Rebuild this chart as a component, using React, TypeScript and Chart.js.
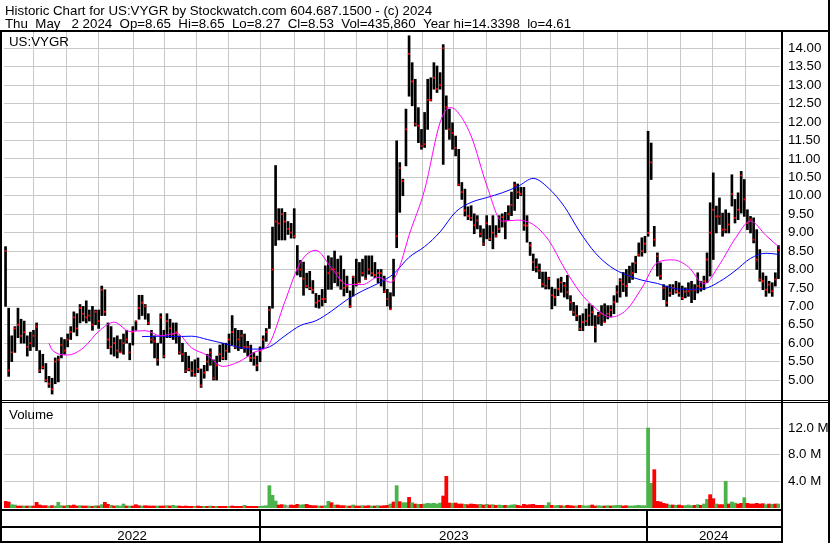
import React, { useEffect, useRef } from 'react';
import { Chart, registerables } from 'chart.js';

Chart.register(...registerables);

// Each slot = about two trading days, May 2022 .. May 2 2024
const highs = [
  8.62, 6.95, 6.2, 6.45, 6.95, 6.65, 6.6, 6.2, 6.3, 6.35,
  6.55, 5.8, 5.7, 5.45, 5.1, 5.05, 5.6, 5.65, 6.15, 6.1,
  6.25, 6.45, 6.85, 6.8, 7.05, 7.0, 7.15, 6.9, 7.0, 6.9,
  6.9, 7.55, 7.45, 6.55, 6.45, 6.15, 6.2, 6.1, 6.25, 6.35,
  6.0, 6.45, 6.6, 7.3, 7.3, 7.05, 6.8, 6.35, 6.2, 6.0,
  6.8, 6.35, 6.8, 6.65, 6.55, 6.55, 6.2, 6.0, 5.75, 5.65,
  5.5, 5.55, 5.6, 5.3, 5.4, 5.7, 5.85, 5.55, 5.65, 5.95,
  6.0, 6.0, 6.25, 6.75, 6.4, 6.35, 6.35, 6.25, 6.05, 5.95,
  5.75, 5.65, 5.9, 6.2, 6.4, 7.0, 9.15, 10.82, 9.65, 9.65,
  9.55, 9.3, 9.25, 9.65, 8.65, 8.25, 8.2, 7.9, 7.95, 7.7,
  7.35, 7.3, 7.46, 8.1, 8.37, 8.32, 8.5, 8.28, 8.37, 8.0,
  7.82, 7.42, 7.82, 8.28, 8.19, 8.28, 8.37, 8.37, 8.37, 8.19,
  8.0, 8.0, 7.82, 7.46, 7.37, 8.28, 11.49, 10.9, 10.45, 12.35,
  14.34, 13.61, 13.16, 12.39, 11.8, 12.26, 13.16, 13.2, 13.61, 13.52,
  13.34, 14.1, 12.71, 12.35, 11.98, 11.62, 11.26, 10.36, 10.18, 9.7,
  9.73, 9.51, 9.46, 9.19, 9.1, 9.46, 9.19, 9.46, 9.19, 9.46,
  9.51, 9.55, 9.73, 10.1, 10.37, 10.32, 10.23, 10.23, 9.46, 8.74,
  8.42, 8.29, 8.15, 7.93, 7.93, 7.79, 7.52, 7.47, 7.75, 7.79,
  7.65, 7.84, 7.29, 7.11, 7.02, 6.75, 6.8, 6.93, 7.07, 7.02,
  6.75, 6.84, 7.02, 7.07, 7.02, 7.02, 7.29, 7.56, 7.75, 7.92,
  8.0, 8.09, 8.18, 8.36, 8.72, 8.86, 8.9, 11.75, 11.43, 9.17,
  8.45, 8.18, 7.59, 7.55, 7.59, 7.59, 7.68, 7.64, 7.55, 7.5,
  7.64, 7.68, 7.59, 7.91, 7.68, 7.82, 8.45, 9.81, 10.62, 9.72,
  9.94, 9.53, 9.62, 9.53, 10.57, 9.9, 10.08, 10.66, 10.44, 9.62,
  9.44, 9.4, 9.08, 8.54, 7.91, 7.82, 7.68, 7.64, 7.91, 8.65,
];

const lows = [
  7.0, 5.1, 5.5, 5.75, 6.15, 6.0, 6.0, 5.65, 5.8, 5.9,
  5.8, 5.2, 5.3, 4.95, 4.8, 4.62, 4.9, 4.95, 5.6, 5.7,
  5.9, 6.1, 6.3, 6.2, 6.55, 6.6, 6.55, 6.6, 6.35, 6.5,
  6.4, 6.75, 6.75, 5.85, 5.7, 5.65, 5.6, 5.75, 5.7, 6.0,
  5.55, 5.95, 6.35, 6.65, 6.75, 6.65, 6.5, 6.0, 5.6, 5.4,
  6.0, 5.6, 6.15, 6.15, 6.1, 6.0, 5.7, 5.5, 5.2, 5.25,
  5.1, 5.1, 5.2, 4.8, 5.05, 5.25, 5.4, 5.0, 5.0, 5.5,
  5.55, 5.55, 5.75, 5.95, 5.85, 5.8, 5.85, 5.75, 5.65, 5.5,
  5.4, 5.25, 5.5, 5.85, 6.05, 6.4, 6.95, 8.65, 8.8, 8.8,
  8.8, 8.95, 8.85, 8.85, 7.85, 7.8, 7.3, 7.5, 7.45, 7.35,
  6.97, 6.95, 7.01, 7.1, 7.46, 7.46, 7.64, 7.55, 7.46, 7.28,
  7.37, 6.97, 7.28, 7.55, 7.64, 7.82, 7.73, 7.87, 7.82, 7.78,
  7.64, 7.55, 7.37, 7.01, 6.92, 7.28, 8.59, 9.55, 10.0, 10.81,
  12.7, 12.44, 11.89, 11.44, 11.26, 11.31, 11.8, 12.57, 12.89, 12.8,
  12.89, 10.85, 11.8, 11.53, 11.26, 11.08, 10.27, 9.9, 9.45, 9.35,
  9.33, 8.97, 9.1, 8.88, 8.65, 8.83, 8.78, 8.56, 8.88, 9.0,
  9.15, 8.83, 9.33, 9.46, 9.6, 9.92, 10.0, 9.06, 8.74, 8.38,
  7.97, 7.93, 7.75, 7.52, 7.47, 7.47, 6.93, 7.02, 7.29, 7.38,
  7.25, 7.2, 6.89, 6.75, 6.61, 6.34, 6.34, 6.48, 6.48, 6.48,
  6.03, 6.52, 6.48, 6.57, 6.66, 6.71, 6.8, 7.11, 7.25, 7.4,
  7.27, 7.64, 7.73, 7.91, 8.36, 8.36, 8.45, 8.9, 10.44, 8.63,
  7.82, 7.73, 7.18, 7.0, 7.27, 7.32, 7.36, 7.27, 7.18, 7.23,
  7.27, 7.1, 7.18, 7.36, 7.41, 7.45, 7.64, 7.82, 8.27, 8.99,
  9.22, 8.9, 8.99, 8.99, 9.72, 9.26, 9.35, 9.53, 9.44, 9.08,
  8.99, 8.72, 8.0, 7.68, 7.45, 7.27, 7.36, 7.27, 7.55, 7.75,
];

const closes = [
  8.5, 5.26, 5.75, 6.4, 6.5, 6.2, 6.3, 5.9, 6.0, 6.2,
  6.45, 5.26, 5.35, 5.0, 4.9, 4.75, 5.5, 5.55, 5.95, 5.8,
  6.1, 6.3, 6.7, 6.4, 6.95, 6.8, 6.7, 6.75, 6.5, 6.85,
  6.6, 7.45, 6.85, 6.1, 5.9, 6.0, 5.8, 5.75, 6.0, 6.1,
  5.75, 6.3, 6.6, 6.95, 7.1, 7.0, 6.55, 6.1, 6.05, 5.55,
  6.7, 5.65, 6.6, 6.4, 6.25, 6.3, 5.75, 5.7, 5.25, 5.3,
  5.25, 5.15, 5.3, 4.85, 5.2, 5.5, 5.75, 5.05, 5.4, 5.7,
  5.6, 5.8, 6.1, 6.3, 5.9, 6.1, 6.2, 5.9, 5.9, 5.6,
  5.6, 5.4, 5.8, 6.1, 6.3, 6.9, 8.0, 9.3, 9.25, 9.5,
  9.3, 9.1, 9.0, 8.9, 8.0, 8.0, 7.75, 7.55, 7.5, 7.45,
  7.1, 7.15, 7.2, 7.2, 7.9, 8.0, 8.0, 7.9, 7.7, 7.5,
  7.55, 7.0, 7.8, 7.6, 7.65, 7.9, 7.75, 8.0, 7.9, 7.85,
  7.9, 7.9, 7.4, 7.2, 6.92, 7.7, 8.9, 10.75, 10.4, 11.8,
  13.85, 13.1, 11.95, 11.9, 11.35, 11.4, 12.6, 12.6, 13.2, 12.9,
  13.0, 14.0, 12.4, 11.8, 11.7, 11.3, 10.3, 10.1, 9.6, 9.45,
  9.4, 9.2, 9.33, 8.97, 8.7, 9.25, 8.83, 9.0, 8.9, 9.1,
  9.42, 9.3, 9.5, 9.75, 10.28, 10.1, 10.05, 9.2, 9.19, 8.65,
  8.2, 8.06, 7.97, 7.6, 7.56, 7.75, 7.3, 7.25, 7.47, 7.65,
  7.56, 7.38, 7.11, 6.84, 6.75, 6.39, 6.57, 6.6, 6.75, 6.84,
  6.43, 6.75, 6.8, 6.57, 6.8, 6.9, 7.11, 7.38, 7.7, 7.6,
  7.55, 7.82, 7.9, 8.18, 8.4, 8.5, 8.7, 8.99, 10.9, 8.81,
  8.36, 7.82, 7.5, 7.1, 7.36, 7.5, 7.41, 7.36, 7.23, 7.4,
  7.41, 7.45, 7.45, 7.55, 7.5, 7.68, 8.27, 9.0, 9.62, 9.44,
  9.44, 9.08, 9.08, 9.22, 10.05, 9.4, 9.62, 10.55, 9.9, 9.26,
  9.35, 8.81, 8.27, 7.73, 7.68, 7.45, 7.59, 7.41, 7.73, 8.53,
];

// Volume in millions of shares
const volumes = [
  1.0, 0.9, 0.5, 0.45, 0.3, 0.3, 0.3, 0.3, 0.3, 0.3,
  0.85, 0.45, 0.35, 0.35, 0.3, 0.35, 0.3, 0.85, 0.35, 0.3,
  0.4, 0.35, 0.45, 0.3, 0.35, 0.3, 0.3, 0.3, 0.25, 0.35,
  0.3, 0.5, 0.85, 0.55, 0.4, 0.3, 0.35, 0.3, 0.6, 0.3,
  0.3, 0.3, 0.5, 0.35, 0.3, 0.35, 0.3, 0.3, 0.3, 0.3,
  0.3, 0.3, 0.35, 0.3, 0.4, 0.3, 0.3, 0.25, 0.3, 0.25,
  0.25, 0.25, 0.3, 0.25, 0.25, 0.25, 0.3, 0.25, 0.25, 0.25,
  0.25, 0.25, 0.25, 0.3, 0.25, 0.25, 0.25, 0.4, 0.25, 0.25,
  0.25, 0.25, 0.25, 0.3, 0.35, 3.35, 1.9, 1.05, 0.45, 0.5,
  0.45, 0.35, 0.45, 0.4, 0.55, 0.45, 0.5, 0.55, 0.4, 0.35,
  0.35, 0.3, 0.3, 0.35, 1.0, 0.8, 0.45, 0.45, 0.35, 0.35,
  0.3, 0.3, 0.45, 0.3, 0.3, 0.35, 0.3, 0.35, 0.3, 0.3,
  0.35, 0.3, 0.35, 0.4, 0.6, 0.9, 3.35, 0.95, 0.8, 0.8,
  1.6, 0.8, 0.6, 0.55, 0.55, 0.6, 0.7, 0.65, 0.7, 0.6,
  0.75, 1.8, 4.75, 0.75, 0.7, 0.75, 0.6, 0.6, 0.55, 0.5,
  0.6, 0.55, 0.5, 0.55, 0.45, 0.55, 0.45, 0.5, 0.4, 0.45,
  0.4, 0.4, 0.35, 0.45, 0.5, 0.4, 0.3, 0.55, 0.45, 0.5,
  0.55, 0.4, 0.4, 0.4, 0.35, 0.8, 0.4, 0.35, 0.4, 0.35,
  0.3, 0.4, 0.35, 0.3, 0.3, 0.4, 0.35, 0.3, 0.35, 0.45,
  0.3, 0.35, 0.3, 0.3, 0.35, 0.3, 0.35, 0.4, 0.4, 0.3,
  0.35, 0.3, 0.3, 0.35, 0.4, 0.35, 0.35, 12.0, 3.7, 5.75,
  1.0, 0.9, 0.7, 0.6, 0.45, 0.45, 0.4, 0.45, 0.35, 0.35,
  0.45, 0.35, 0.4, 0.5, 0.4, 0.6, 1.3, 2.0, 1.4, 0.6,
  0.5, 0.5, 4.0, 0.6, 0.9, 0.75, 0.6, 0.7, 1.55, 0.7,
  0.6, 0.6, 0.7, 0.6, 0.65, 0.5, 0.6, 0.55, 0.6, 0.6,
];

// 1 = up day (green), 0 = down day (red), 2 = unchanged (grey)
const volumeTrend = [
  0, 0, 1, 1, 0, 0, 1, 0, 1, 0,
  0, 0, 0, 0, 1, 0, 1, 1, 1, 0,
  1, 0, 0, 0, 1, 0, 0, 1, 0, 1,
  0, 1, 0, 0, 1, 0, 1, 1, 1, 0,
  1, 0, 0, 0, 1, 0, 0, 0, 0, 1,
  0, 0, 1, 0, 1, 1, 0, 0, 0, 0,
  0, 1, 0, 0, 1, 0, 1, 0, 1, 0,
  0, 0, 1, 0, 0, 0, 0, 1, 0, 0,
  0, 0, 1, 1, 1, 1, 1, 1, 0, 0,
  1, 2, 0, 0, 0, 1, 1, 0, 0, 0,
  0, 1, 0, 1, 1, 0, 1, 0, 0, 0,
  1, 0, 1, 0, 0, 1, 0, 0, 1, 0,
  1, 0, 0, 0, 1, 0, 1, 0, 1, 1,
  0, 1, 0, 1, 0, 1, 1, 1, 1, 1,
  1, 0, 0, 0, 1, 0, 0, 0, 1, 0,
  0, 0, 0, 1, 0, 1, 0, 1, 0, 1,
  1, 0, 1, 1, 1, 0, 0, 0, 0, 0,
  0, 0, 0, 0, 1, 1, 0, 1, 1, 0,
  1, 0, 0, 0, 1, 0, 1, 1, 1, 0,
  0, 1, 1, 0, 1, 0, 1, 1, 1, 0,
  0, 1, 1, 1, 1, 1, 1, 1, 1, 0,
  0, 0, 0, 0, 1, 0, 1, 0, 0, 1,
  1, 1, 0, 1, 0, 1, 1, 0, 0, 1,
  0, 0, 1, 0, 1, 1, 0, 0, 1, 0,
  0, 0, 0, 0, 0, 1, 0, 1, 0, 1,
];

// moving averages (slot, value)
const fastMaAt = [14, 15, 20, 25, 30, 35, 40, 45, 50, 55, 60, 65, 70, 75, 80, 85, 90, 95, 100, 105, 110, 115, 120, 124, 127, 130, 135, 140, 143, 145, 150, 155, 160, 165, 170, 175, 180, 185, 190, 195, 200, 205, 210, 215, 220, 225, 230, 235, 240, 245, 249];
const fastMa = [6.0, 5.82, 5.68, 5.87, 6.32, 6.57, 6.32, 6.34, 6.2, 6.27, 5.87, 5.67, 5.37, 5.49, 5.75, 5.99, 7.13, 8.19, 8.52, 8.04, 7.59, 7.59, 7.79, 7.65, 8.09, 8.93, 10.16, 11.99, 12.39, 12.33, 11.62, 10.29, 9.31, 9.34, 9.22, 8.79, 8.04, 7.39, 6.95, 6.71, 6.9, 7.5, 8.19, 8.26, 8.07, 7.61, 8.13, 8.83, 9.31, 8.92, 8.62];
const slowMaAt = [44, 50, 55, 60, 65, 70, 75, 80, 85, 90, 95, 100, 105, 110, 115, 120, 125, 130, 135, 140, 145, 150, 155, 160, 165, 170, 175, 180, 185, 190, 195, 200, 205, 210, 215, 220, 225, 230, 235, 240, 245, 249];
const slowMa = [6.18, 6.19, 6.18, 6.19, 6.1, 6.0, 5.89, 5.84, 5.9, 6.2, 6.48, 6.61, 6.87, 7.18, 7.42, 7.62, 7.88, 8.33, 8.62, 9.02, 9.56, 9.82, 9.95, 10.08, 10.25, 10.47, 10.2, 9.71, 9.02, 8.45, 8.07, 7.85, 7.71, 7.62, 7.49, 7.46, 7.48, 7.67, 7.96, 8.3, 8.44, 8.41];

// month boundaries in slot units, and year segment edges
const monthLines = [9.14, 19.74, 30.03, 41.27, 51.23, 61.52, 71.8, 82.08, 93.0, 102.65, 112.93, 123.21, 134.46, 144.42, 155.0, 165.96, 175.6, 186.1, 197.1, 206.76, 217.4, 227.7, 238.3];
const yearEdges = [-0.5, 82.08, 206.76, 249.5];
const yearLabels = ['2022', '2023', '2024'];

const priceTicks = [5, 5.5, 6, 6.5, 7, 7.5, 8, 8.5, 9, 9.5, 10, 10.5, 11, 11.5, 12, 12.5, 13, 13.5, 14];
const volumeTicks = [4, 8, 12];

const headerLine1 = 'Historic Chart for US:VYGR by Stockwatch.com 604.687.1500 - (c) 2024';
const headerLine2 = 'Thu  May   2 2024  Op=8.65  Hi=8.65  Lo=8.27  Cl=8.53  Vol=435,860  Year hi=14.3398  lo=4.61';
const symbolLabel = 'US:VYGR';
const volumeLabel = 'Volume';

const FONT = "'Liberation Sans', Arial, sans-serif";
const FS = 13.3;
const GRID = '#c8c8c8';
const UP = '#4cb34c';
const DOWN = '#ff0000';
const FLAT = '#a0a0a0';

export default function App() {
  const ref = useRef<HTMLCanvasElement | null>(null);

  useEffect(() => {
    const canvas = ref.current;
    if (!canvas) return;

    const framePlugin = {
      id: 'frame',
      afterDraw(chart: any) {
        const ctx = chart.ctx;
        const W = chart.width;
        const H = chart.height;
        const ca = chart.chartArea;
        const ys = chart.scales.y;
        const yv = chart.scales.yv;
        const xs = chart.scales.x;
        const xy = chart.scales.xy;
        ctx.save();
        ctx.fillStyle = '#000';
        const sep = Math.round(ca.right) + 1;
        const top = Math.round(ca.top) - 2;
        ctx.fillRect(0, top, W, 2);
        ctx.fillRect(0, top, 2, H - top);
        ctx.fillRect(W - 2, 0, 2, H);
        ctx.fillRect(sep, top, 2, H - top);
        const pb = Math.round(ys.bottom);
        ctx.fillRect(0, pb, W, 1);
        ctx.fillRect(0, pb + 2, W, 1);
        const vb = Math.round(yv.bottom);
        ctx.fillRect(0, vb + 1, sep, 2);
        const rowY = Math.round(xy.top);
        ctx.fillRect(0, rowY, sep, 2);
        ctx.fillRect(0, H - 2, sep, 2);
        for (let k = 1; k < yearEdges.length - 1; k++) {
          const px = Math.round(xs.getPixelForValue(yearEdges[k]));
          ctx.fillRect(px - 1, vb + 1, 2, H - vb - 1);
        }
        ctx.font = `${FS}px ${FONT}`;
        ctx.textBaseline = 'alphabetic';
        ctx.textAlign = 'left';
        ctx.fillText(headerLine1, 5, 15);
        ctx.fillText(headerLine2, 5, 28);
        ctx.fillText(symbolLabel, 9, Math.round(ys.top) + 14);
        ctx.fillText(volumeLabel, 9, pb + 19);
        ctx.restore();
      },
    };

    const tickFont = { family: FONT, size: FS };

    const chart = new Chart(canvas, {
      type: 'bar',
      data: {
        datasets: [
          {
            type: 'line',
            data: fastMaAt.map((x, i) => ({ x, y: fastMa[i] })),
            borderColor: '#ff00ff',
            borderWidth: 1,
            pointRadius: 0,
            cubicInterpolationMode: 'monotone',
            xAxisID: 'x',
            yAxisID: 'y',
          },
          {
            type: 'line',
            data: slowMaAt.map((x, i) => ({ x, y: slowMa[i] })),
            borderColor: '#0000ff',
            borderWidth: 1,
            pointRadius: 0,
            cubicInterpolationMode: 'monotone',
            xAxisID: 'x',
            yAxisID: 'y',
          },
          {
            type: 'scatter',
            data: closes.map((c, i) => ({ x: i, y: c })),
            pointStyle: 'rect',
            pointRadius: 1.3,
            backgroundColor: '#ff0000',
            borderWidth: 0,
            xAxisID: 'x',
            yAxisID: 'y',
          },
          {
            type: 'bar',
            data: highs.map((h, i) => ({ x: i, y: [lows[i], h] })),
            backgroundColor: '#000',
            borderWidth: 0,
            barThickness: 2,
            grouped: false,
            xAxisID: 'x',
            yAxisID: 'y',
          },
          {
            type: 'bar',
            data: volumes.map((v, i) => ({ x: i, y: v })),
            backgroundColor: volumeTrend.map((t) => (t === 1 ? UP : t === 0 ? DOWN : FLAT)),
            borderWidth: 0,
            barPercentage: 1,
            categoryPercentage: 1,
            grouped: false,
            xAxisID: 'x',
            yAxisID: 'yv',
          },
        ],
      } as any,
      options: {
        responsive: false,
        animation: false,
        devicePixelRatio: 1,
        events: [],
        layout: { padding: { top: 32, left: 2, right: 0, bottom: 0 } },
        plugins: {
          legend: { display: false },
          tooltip: { enabled: false },
          title: { display: false },
        },
        scales: {
          x: {
            type: 'linear',
            position: 'bottom',
            offset: false,
            min: -0.5,
            max: 249.5,
            afterBuildTicks: (s: any) => {
              s.ticks = monthLines.map((v) => ({ value: v }));
            },
            afterFit: (s: any) => {
              s.height = 18;
            },
            ticks: { display: false },
            grid: { color: GRID, lineWidth: 1, drawTicks: false, offset: false },
            border: { display: false },
          },
          xy: {
            type: 'linear',
            position: 'bottom',
            offset: false,
            min: -0.5,
            max: 249.5,
            afterBuildTicks: (s: any) => {
              s.ticks = yearLabels.map((_, k) => ({ value: (yearEdges[k] + yearEdges[k + 1]) / 2 }));
            },
            afterFit: (s: any) => {
              s.height = 17;
            },
            ticks: {
              autoSkip: false,
              maxRotation: 0,
              padding: 2,
              color: '#000',
              font: tickFont,
              callback: (_v: any, i: number) => yearLabels[i],
            },
            grid: { display: false, drawTicks: false, offset: false },
            border: { display: false },
          },
          y: {
            type: 'linear',
            position: 'right',
            stack: 'panes',
            stackWeight: 368,
            min: 4.459,
            max: 14.442,
            afterBuildTicks: (s: any) => {
              s.ticks = priceTicks.map((v) => ({ value: v }));
            },
            afterFit: (s: any) => {
              s.width = 50;
            },
            ticks: {
              autoSkip: false,
              padding: 8,
              color: '#000',
              font: tickFont,
              callback: (v: any) => Number(v).toFixed(2),
            },
            grid: { color: GRID, lineWidth: 1, drawTicks: false },
            border: { display: false },
          },
          yv: {
            type: 'linear',
            position: 'right',
            stack: 'panes',
            stackWeight: 108,
            min: 0,
            max: 16.2,
            afterBuildTicks: (s: any) => {
              s.ticks = volumeTicks.map((v) => ({ value: v }));
            },
            afterFit: (s: any) => {
              s.width = 50;
            },
            ticks: {
              autoSkip: false,
              padding: 8,
              color: '#000',
              font: tickFont,
              callback: (v: any) => Number(v).toFixed(1) + ' M',
            },
            grid: { color: GRID, lineWidth: 1, drawTicks: false },
            border: { display: false },
          },
        },
      } as any,
      plugins: [framePlugin],
    });

    return () => chart.destroy();
  }, []);

  return (
    <div style={{ position: 'absolute', left: 0, top: 0, width: 830, height: 543, background: '#fff' }}>
      <canvas ref={ref} width={830} height={543} style={{ display: 'block', width: 830, height: 543 }} />
    </div>
  );
}
